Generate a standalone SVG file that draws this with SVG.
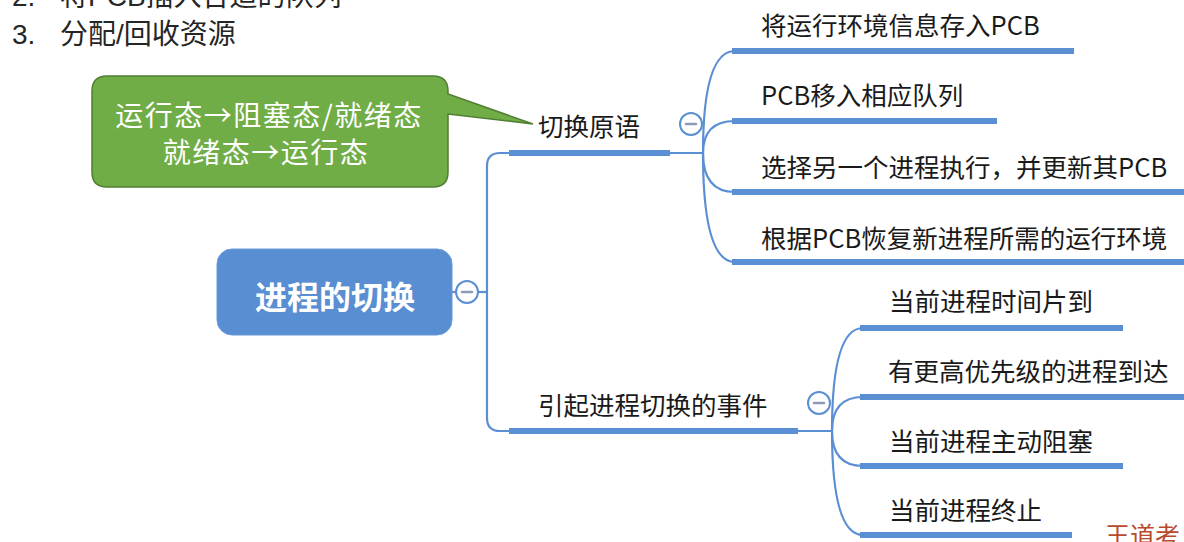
<svg xmlns="http://www.w3.org/2000/svg" width="1184" height="542" viewBox="0 0 1184 542">
<style>
.hdr{font-family:"Liberation Sans","Noto Sans CJK SC",sans-serif;font-size:28px;fill:#262626}
.lbl{font-family:"Noto Sans CJK SC",sans-serif;font-size:25.5px;fill:#1a1a1a}
.thin{fill:none;stroke:#5B8FD3;stroke-width:2.2}
.thick{fill:none;stroke:#5B8FD3;stroke-width:6}
.tog{fill:#fff;stroke:#5B8FD3;stroke-width:2}
.minus{stroke:#8E9AB8;stroke-width:2.5;stroke-linecap:round}
.call{font-family:"Noto Sans CJK SC",sans-serif;font-size:28px;fill:#fff;letter-spacing:1.5px}
</style>
<rect width="1184" height="542" fill="#fff"/>
<g id="header">
<text class="hdr" x="12" y="6">2.</text>
<text class="hdr" x="60" y="6">将PCB插入合适的队列</text>
<text class="hdr" x="12" y="44">3.</text>
<text class="hdr" x="60" y="44">分配/回收资源</text>
</g>
<g id="connectors">
<line class="thin" x1="452" y1="292" x2="456" y2="292"/>
<line class="thin" x1="478" y1="292" x2="487" y2="292"/>
<path class="thin" d="M 703 153 H 500 Q 487 153 487 166 V 418 Q 487 431 500 431 H 832"/>
<path class="thick" d="M 509 153 H 670"/>
<path class="thick" d="M 509 431 H 798"/>
<path class="thin" d="M 703 153 Q 703 51 735 51"/>
<path class="thin" d="M 703 153 Q 703 121 735 121"/>
<path class="thin" d="M 703 153 Q 703 192 735 192"/>
<path class="thin" d="M 703 153 Q 703 262 735 262"/>
<path class="thin" d="M 832 431 Q 832 328 863 328"/>
<path class="thin" d="M 832 431 Q 832 397 863 397"/>
<path class="thin" d="M 832 431 Q 832 466 863 466"/>
<path class="thin" d="M 832 431 Q 832 535 863 535"/>
<path class="thick" d="M 732 51 H 1074"/>
<path class="thick" d="M 732 121 H 997"/>
<path class="thick" d="M 732 192 H 1190"/>
<path class="thick" d="M 732 262 H 1190"/>
<path class="thick" d="M 860 328 H 1123"/>
<path class="thick" d="M 860 397 H 1190"/>
<path class="thick" d="M 860 466 H 1123"/>
<path class="thick" d="M 860 535 H 1072"/>
</g>
<g id="callout">
<path d="M 107 76 H 433 Q 448 76 448 91 V 94 L 533 124 L 448 114 V 172 Q 448 187 433 187 H 107 Q 92 187 92 172 V 91 Q 92 76 107 76 Z" fill="#70AD47" stroke="#507E32" stroke-width="1.5"/>
<text class="call" x="269" y="126" text-anchor="middle">运行态→阻塞态/就绪态</text>
<text class="call" x="266" y="163" text-anchor="middle">就绪态→运行态</text>
</g>
<g id="root">
<rect x="217" y="249" width="235" height="86" rx="15" fill="#5A8ED2" stroke="#6B9AD8" stroke-width="1"/>
<text x="335" y="309" text-anchor="middle" font-family="Noto Sans CJK SC,sans-serif" font-size="32" font-weight="bold" fill="#fff">进程的切换</text>
<circle class="tog" cx="467" cy="292" r="11"/>
<line class="minus" x1="462" y1="292" x2="472" y2="292"/>
</g>
<g id="switch-primitive">
<text class="lbl" x="538" y="136">切换原语</text>
<circle class="tog" cx="691" cy="124" r="11"/>
<line class="minus" x1="686" y1="124" x2="696" y2="124"/>
</g>
<g id="switch-events">
<text class="lbl" x="538" y="415">引起进程切换的事件</text>
<circle class="tog" cx="819" cy="403" r="11"/>
<line class="minus" x1="814" y1="403" x2="824" y2="403"/>
</g>
<g id="p1"><text class="lbl" x="761" y="35">将运行环境信息存入PCB</text></g>
<g id="p2"><text class="lbl" x="761" y="105">PCB移入相应队列</text></g>
<g id="p3"><text class="lbl" x="761" y="177">选择另一个进程执行，并更新其PCB</text></g>
<g id="p4"><text class="lbl" x="761" y="248">根据PCB恢复新进程所需的运行环境</text></g>
<g id="e1"><text class="lbl" x="889" y="311">当前进程时间片到</text></g>
<g id="e2"><text class="lbl" x="888" y="381">有更高优先级的进程到达</text></g>
<g id="e3"><text class="lbl" x="889" y="451">当前进程主动阻塞</text></g>
<g id="e4"><text class="lbl" x="889" y="520">当前进程终止</text></g>
<g id="watermark"><text x="1105" y="545" font-family="Noto Sans CJK SC,sans-serif" font-size="25" fill="#B84A2C">王道考</text></g>
</svg>
